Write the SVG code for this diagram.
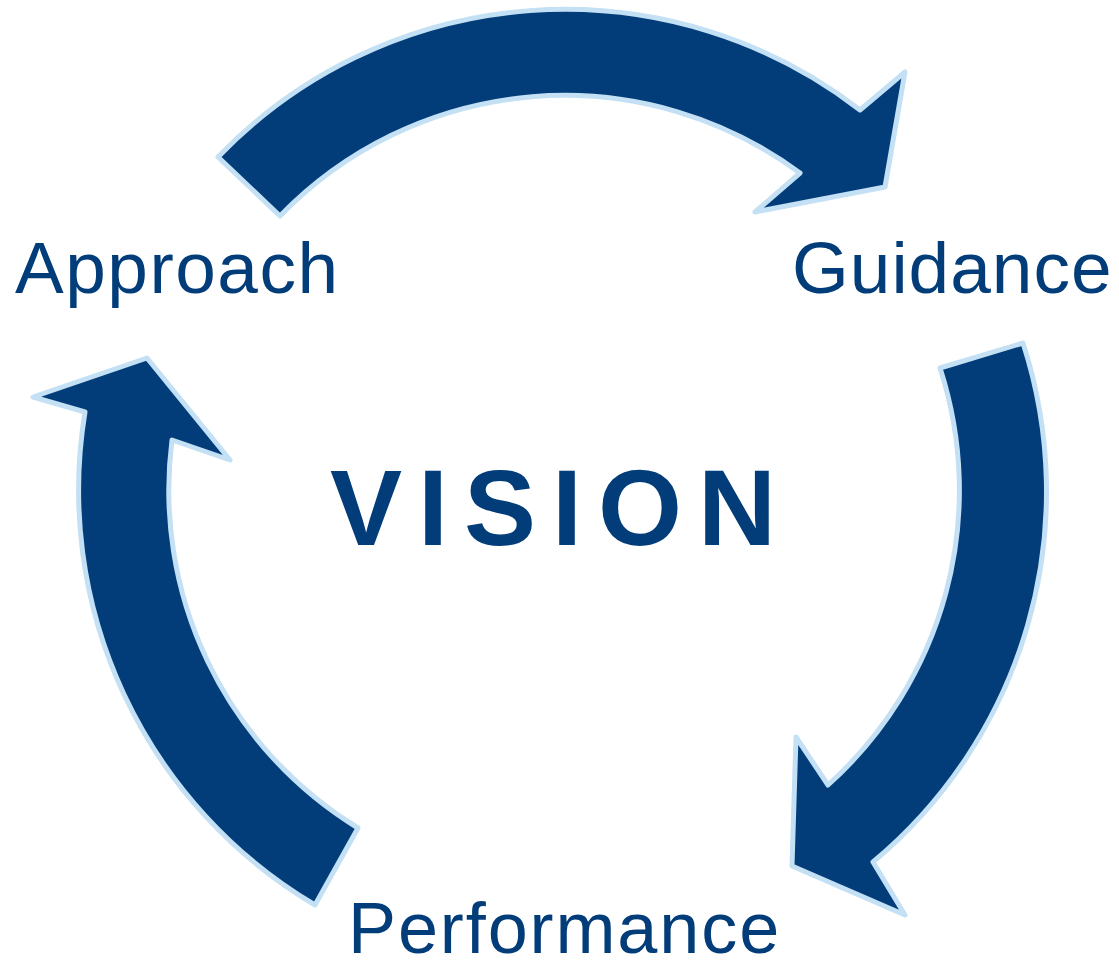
<svg xmlns="http://www.w3.org/2000/svg" width="1119" height="968" viewBox="0 0 1119 968">
<style>
.arrow{fill:#023D7A;stroke:#C3E0F4;stroke-width:5;stroke-linejoin:round}
.lbl{fill:#023D7A;font-family:"Liberation Sans",Arial,sans-serif;font-size:73px;letter-spacing:1.5px}
.title{fill:#023D7A;font-family:"Liberation Sans",Arial,sans-serif;font-size:108px;font-weight:bold;letter-spacing:16px}
</style>
<rect width="1119" height="968" fill="#FFFFFF"/>
<g id="connectors">
<path id="arrow-top" class="arrow" d="M 218,157 A 482 482 0 0 1 860,110 L 905,72 L 885,187 L 755,212 L 800,173 A 396 396 0 0 0 280,216 Z"/>
<path id="arrow-right" class="arrow" d="M 1023,343 A 482 482 0 0 1 873,862 L 905,915 L 792,866 L 796,737 L 828,785 A 396 396 0 0 0 940,368 Z"/>
<path id="arrow-left" class="arrow" d="M 315,905 A 482 482 0 0 1 85,412 L 33,397 L 147,358 L 230,460 L 172,440 A 396 396 0 0 0 358,828 Z"/>
</g>
<g id="node-vision"><text class="title" x="330" y="545">VISION</text></g>
<g id="node-approach"><text class="lbl" x="15" y="293">Approach</text></g>
<g id="node-guidance"><text class="lbl" x="792" y="293" style="letter-spacing:1px">Guidance</text></g>
<g id="node-performance"><text class="lbl" x="348" y="953" style="font-size:72px;letter-spacing:1.9px">Performance</text></g>
</svg>
